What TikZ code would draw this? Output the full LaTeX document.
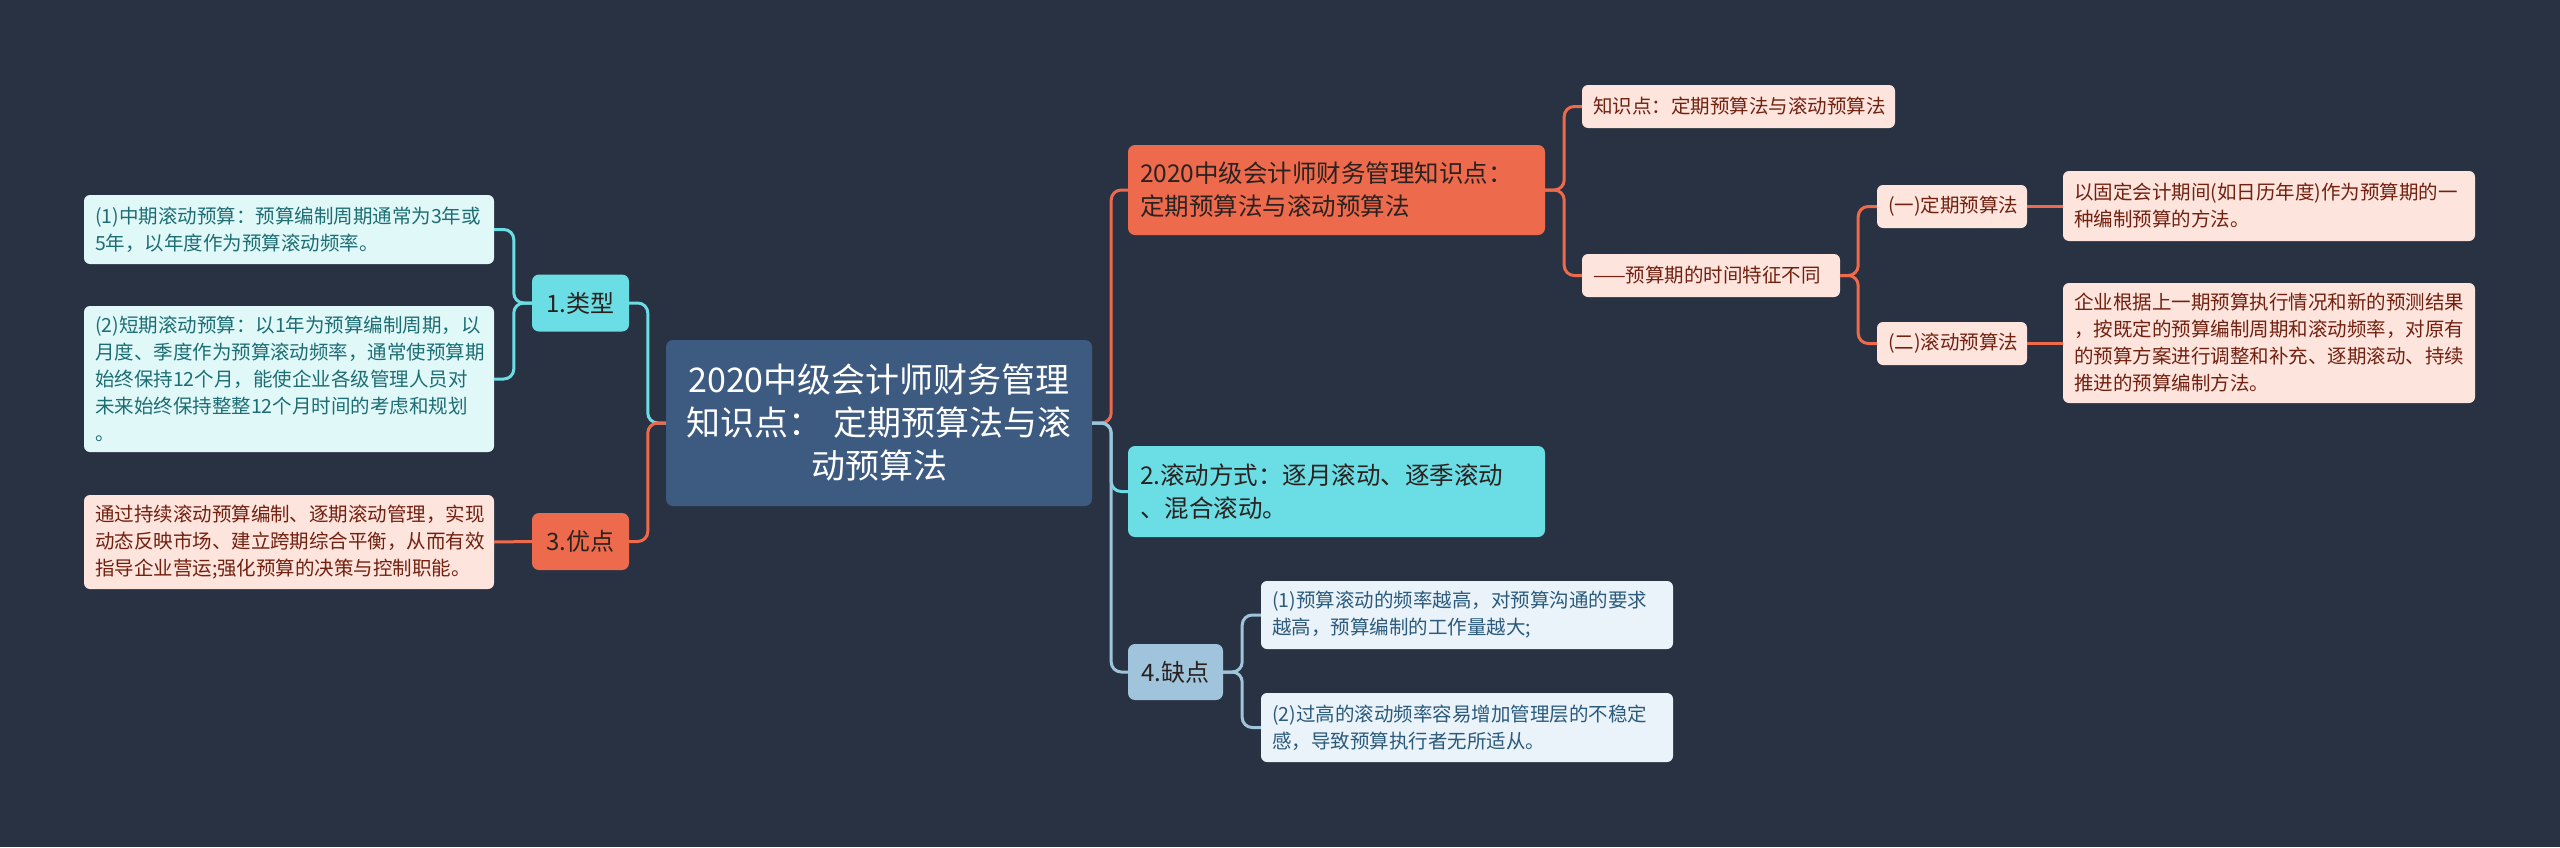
\documentclass[tikz,border=0pt]{standalone}
\usepackage{fontspec}
\setmainfont{Noto Sans CJK SC}
\definecolor{bg}{HTML}{293242}
\definecolor{rootfill}{HTML}{3D5A80}
\definecolor{orange}{HTML}{EE6A4C}
\definecolor{cyan}{HTML}{6BDDE4}
\definecolor{lblue}{HTML}{A0C4DC}
\definecolor{pink}{HTML}{FDE5DE}
\definecolor{lcyan}{HTML}{E1F8F9}
\definecolor{lgray}{HTML}{EAF3F9}
\definecolor{pinktext}{HTML}{72200F}
\definecolor{cyantext}{HTML}{1D6E74}
\definecolor{graytext}{HTML}{2B5A7C}
\definecolor{darktext}{HTML}{2A2220}
\tikzset{
  base/.style={rounded corners=7pt, inner ysep=0pt, anchor=center},
  rootbox/.style={base, fill=rootfill, text=white, inner xsep=20pt, align=center,
    font=\fontsize{34}{43}\selectfont, text width=386pt, minimum height=166pt},
  lvone/.style={base, inner xsep=8pt, align=center, font=\fontsize{24}{30}\selectfont,
    text=darktext, text width=81pt, minimum height=57pt},
  mainbox/.style={base, inner xsep=12pt, align=left, font=\fontsize{24.5}{33}\selectfont,
    text=darktext, text width=393pt, minimum height=91pt},
  small/.style={base, rounded corners=6pt, inner xsep=11pt, align=left,
    font=\fontsize{19.5}{27}\selectfont},
  pinkbox/.style={small, fill=pink, text=pinktext},
  cyanbox/.style={small, fill=lcyan, text=cyantext},
  graybox/.style={small, fill=lgray, text=graytext},
  link/.style={line width=3pt, rounded corners=10pt},
  olink/.style={link, draw=orange},
  clink/.style={link, draw=cyan},
  blink/.style={link, draw=lblue},
}
\begin{document}
\begin{tikzpicture}[x=1pt,y=-1pt]
\fill[bg] (0,0) rectangle (2560,847);
\useasboundingbox (0,0) rectangle (2560,847);

% root
\node[rootbox] (root) at (879,423) {2020中级会计师财务管理\\知识点：\ 定期预算法与滚\\动预算法};

% left side
\node[lvone, fill=cyan] (type) at (580.5,303) {1.类型};
\node[lvone, fill=orange] (adv) at (580.5,541.5) {3.优点};
\node[cyanbox, text width=388pt, minimum height=69pt] (b1) at (289,229.5)
  {(1)中期滚动预算：预算编制周期通常为3年或\\5年，以年度作为预算滚动频率。};
\node[cyanbox, text width=388pt, minimum height=146pt] (b2) at (289,379)
  {(2)短期滚动预算：以1年为预算编制周期，以\\月度、季度作为预算滚动频率，通常使预算期\\始终保持12个月，能使企业各级管理人员对\\未来始终保持整整12个月时间的考虑和规划\\。};
\node[pinkbox, text width=388pt, minimum height=94pt] (b3) at (289,542)
  {通过持续滚动预算编制、逐期滚动管理，实现\\动态反映市场、建立跨期综合平衡，从而有效\\指导企业营运;强化预算的决策与控制职能。};

% right side main nodes
\node[mainbox, fill=orange, minimum height=90pt] (m1) at (1336.5,190)
  {2020中级会计师财务管理知识点：\\定期预算法与滚动预算法};
\node[mainbox, fill=cyan] (m2) at (1336.5,491.5)
  {2.滚动方式：逐月滚动、逐季滚动\\、混合滚动。};
\node[lvone, fill=lblue, text width=79pt, minimum height=56pt] (m3) at (1175.5,672) {4.缺点};

% children of m1
\node[pinkbox, text width=291pt, minimum height=43pt] (k1) at (1738.5,106.5)
  {知识点：定期预算法与滚动预算法};
\node[pinkbox, text width=236pt, minimum height=43pt] (k2) at (1711,275.5)
  {——预算期的时间特征不同};
\node[pinkbox, text width=128pt, minimum height=43pt] (s1) at (1952,206.5)
  {(一)定期预算法};
\node[pinkbox, text width=128pt, minimum height=43pt] (s2) at (1952,343.5)
  {(二)滚动预算法};
\node[pinkbox, text width=390pt, minimum height=70pt] (d1) at (2269,206)
  {以固定会计期间(如日历年度)作为预算期的一\\种编制预算的方法。};
\node[pinkbox, text width=390pt, minimum height=120pt] (d2) at (2269,343)
  {企业根据上一期预算执行情况和新的预测结果\\，按既定的预算编制周期和滚动频率，对原有\\的预算方案进行调整和补充、逐期滚动、持续\\推进的预算编制方法。};

% children of m3
\node[graybox, text width=390pt, minimum height=68pt] (f1) at (1467,615)
  {(1)预算滚动的频率越高，对预算沟通的要求\\越高，预算编制的工作量越大;};
\node[graybox, text width=390pt, minimum height=69pt] (f2) at (1467,727.5)
  {(2)过高的滚动频率容易增加管理层的不稳定\\感，导致预算执行者无所适从。};

% connectors (drawn behind nodes)
\begin{scope}[on background layer/.try]
\end{scope}
\draw[clink] (root.west) -- ++(-18,0) |- (type.east);
\draw[olink] (root.west) -- ++(-18,0) |- (adv.east);
\draw[clink] (type.west) -- ++(-18,0) |- (b1.east);
\draw[clink] (type.west) -- ++(-18,0) |- (b2.east);
\draw[olink] (adv.west) -- (b3.east);

\draw[olink] (root.east) -- ++(19,0) |- (m1.west);
\draw[clink] (root.east) -- ++(19,0) |- (m2.west);
\draw[blink] (root.east) -- ++(19,0) |- (m3.west);

\draw[olink] (m1.east) -- ++(19,0) |- (k1.west);
\draw[olink] (m1.east) -- ++(19,0) |- (k2.west);
\draw[olink] (k2.east) -- ++(18,0) |- (s1.west);
\draw[olink] (k2.east) -- ++(18,0) |- (s2.west);
\draw[olink] (s1.east) -- (d1.west |- s1.east);
\draw[olink] (s2.east) -- (d2.west |- s2.east);

\draw[blink] (m3.east) -- ++(19,0) |- (f1.west);
\draw[blink] (m3.east) -- ++(19,0) |- (f2.west);
\end{tikzpicture}
\end{document}
